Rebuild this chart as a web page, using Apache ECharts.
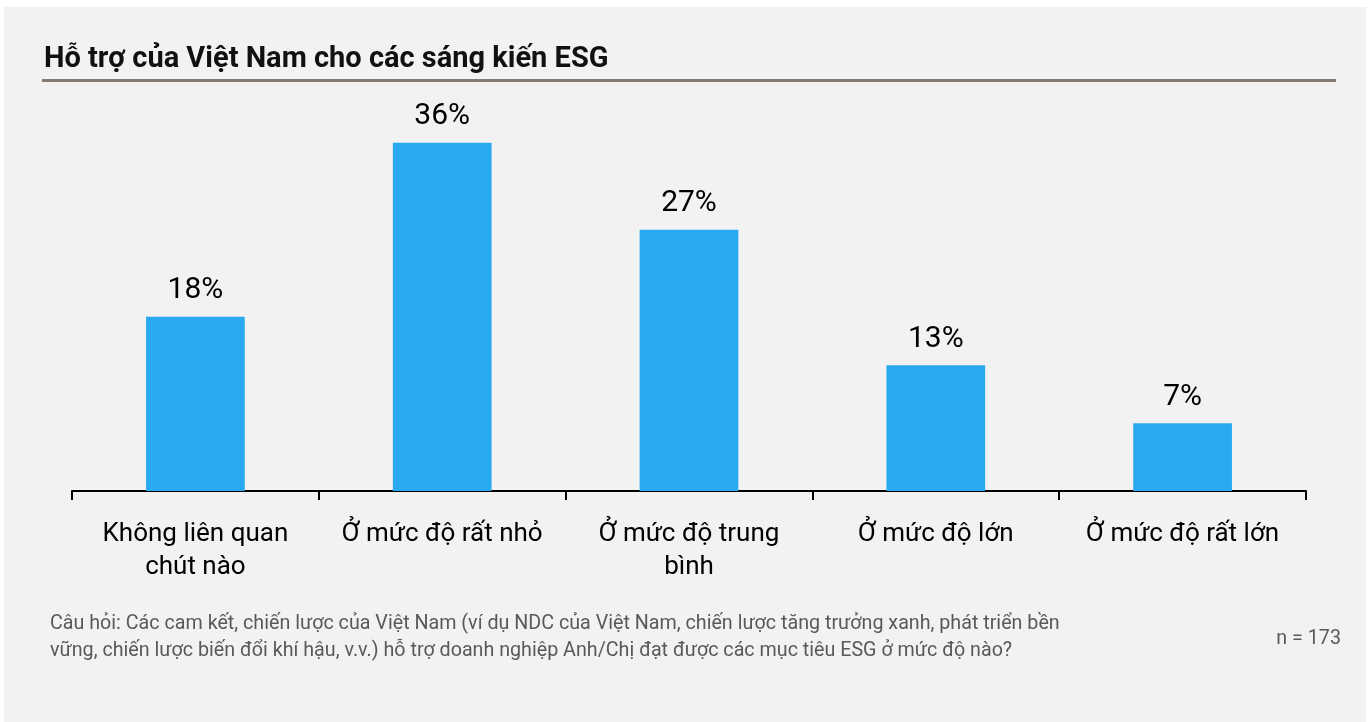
<!DOCTYPE html>
<html>
<head>
<meta charset="utf-8">
<script src="https://cdn.jsdelivr.net/npm/echarts@6/dist/echarts.min.js"></script>
<style>
  html, body { margin: 0; padding: 0; background: #ffffff; }
  #frame { position: absolute; left: 4px; top: 7px; width: 1362px; height: 715px; background: #f2f2f2; }
  #chart { position: absolute; left: 0; top: 0; width: 1372px; height: 722px; }
</style>
</head>
<body>
<div id="frame"></div>
<div id="chart"></div>
<script>
const titleText = 'Hỗ trợ của Việt Nam cho các sáng kiến ESG';
const categories = ['Không liên quan\nchút nào', 'Ở mức độ rất nhỏ', 'Ở mức độ trung\nbình', 'Ở mức độ lớn', 'Ở mức độ rất lớn'];
const values = [18, 36, 27, 13, 7];
const footnoteLines = [
  'Câu hỏi: Các cam kết, chiến lược của Việt Nam (ví dụ NDC của Việt Nam, chiến lược tăng trưởng xanh, phát triển bền',
  'vững, chiến lược biến đổi khí hậu, v.v.) hỗ trợ doanh nghiệp Anh/Chị đạt được các mục tiêu ESG ở mức độ nào?'
];
const sampleText = 'n = 173';

const FONT = 'Roboto, "Noto Sans", sans-serif';
const chart = echarts.init(document.getElementById('chart'), null, { renderer: 'canvas' });
chart.setOption({
  backgroundColor: 'transparent',
  animation: false,
  title: {
    text: titleText,
    left: 39, top: 40,
    textStyle: { fontFamily: FONT, fontWeight: 'bold', fontSize: 29, color: '#111111' }
  },
  graphic: [
    { type: 'rect', shape: { x: 42, y: 79, width: 1294, height: 3 }, style: { fill: '#857b73' } },
    { type: 'text', left: 50, top: 611, style: { text: footnoteLines.join('\n'), fontFamily: FONT, fontSize: 19.7, lineHeight: 27, fill: '#595959' } },
    { type: 'text', right: 31, top: 629, style: { text: sampleText, fontFamily: FONT, fontSize: 19.7, fill: '#595959' } }
  ],
  grid: { left: 72, right: 66, top: 104, bottom: 231, containLabel: false },
  xAxis: {
    type: 'category',
    data: categories,
    boundaryGap: true,
    axisLine: { lineStyle: { color: '#000000', width: 2 } },
    axisTick: { show: true, length: 9, lineStyle: { color: '#000000', width: 2 } },
    axisLabel: { interval: 0, margin: 27, fontFamily: FONT, fontSize: 26, lineHeight: 33, color: '#000000' }
  },
  yAxis: {
    type: 'value', min: 0, max: 40, show: false, splitLine: { show: false }
  },
  series: [{
    type: 'bar',
    data: values,
    barWidth: '40%',
    itemStyle: { color: '#29aaf0' },
    label: {
      show: true, position: 'top', distance: 11,
      formatter: p => p.value + '%',
      fontFamily: FONT, fontSize: 30, color: '#000000'
    }
  }]
});
</script>
</body>
</html>
